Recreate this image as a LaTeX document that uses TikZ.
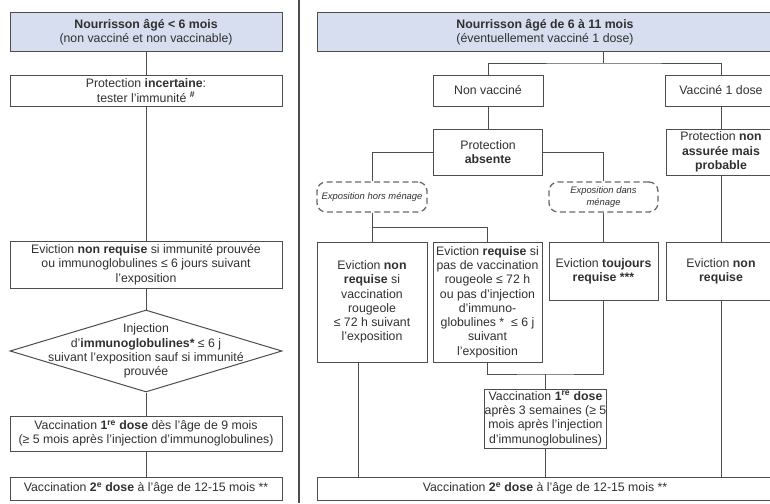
\documentclass[tikz,border=0pt]{standalone}
\usepackage{fontspec}
\setmainfont{Liberation Sans}
\usepackage{tikz}
\usetikzlibrary{shapes.geometric}
\definecolor{headblue}{HTML}{D6DEEF}
\definecolor{linegray}{HTML}{4D4D4D}
\definecolor{txtgray}{HTML}{303030}
\tikzset{dims/.style 2 args={minimum width=#1, minimum height=#2}}
\tikzset{txt/.style={align=center, inner sep=0pt, text=txtgray, font=\fontsize{12.3}{14.3}\selectfont}}
\tikzset{box/.style={txt, draw=linegray, line width=1pt, rectangle}}
\tikzset{head/.style={box, fill=headblue}}
\tikzset{expo/.style={box, draw=linegray!85, line width=1.3pt, dash pattern=on 6pt off 3.5pt, rounded corners=9pt, font=\fontsize{9.4}{12}\selectfont\itshape}}
\tikzset{dmd/.style={draw=linegray, line width=1pt, shape=diamond, inner sep=0pt}}
\tikzset{link/.style={draw=linegray, line width=1pt}}

\begin{document}
\begin{tikzpicture}[x=1pt, y=-1pt]
\useasboundingbox (0, 0) rectangle (770, 503);

% left column: < 6 mois
\node [head, dims={272}{39}] (h1) at(146, 32.5) {\textbf{Nourrisson âgé < 6 mois}\\(non vacciné et non vaccinable)};
\node [box, dims={272}{31}] (p1) at(146, 90.5) {Protection \textbf{incertaine}:\\tester l'immunité \textsuperscript{\textbf{\#}}};
\node [box, dims={272}{47}] (e1) at(146, 264.5) {Eviction \textbf{non requise} si immunité prouvée\\ou immunoglobulines ≤ 6 jours suivant\\l'exposition};
\node [dmd, dims={272}{82}] (d1) at(146, 351) {};
\node [txt] (d1t) at(d1) {Injection\\d'\textbf{immunoglobulines*} ≤ 6 j\\suivant l'exposition sauf si immunité\\prouvée};
\node [box, dims={272}{35}] (v1l) at(146, 433.5) {Vaccination \textbf{1\textsuperscript{re} dose} dès l'âge de 9 mois\\(≥ 5 mois après l'injection d'immunoglobulines)};
\node [box, dims={272}{23}] (v2l) at(146, 488.5) {Vaccination \textbf{2\textsuperscript{e} dose} à l'âge de 12-15 mois **};

\foreach \a/\b in {h1/p1, p1/e1, e1/d1, d1/v1l, v1l/v2l} {\draw [link] (\a) -- (\b);}

\draw [linegray, line width=1.2pt] (299, 0) -- (299, 503);

% right column: 6 a 11 mois
\node [head, dims={456}{39}] (h2) at(545, 32.5) {\textbf{Nourrisson âgé de 6 à 11 mois}\\(éventuellement vacciné 1 dose)};
\node [box, dims={110}{31}] (nv) at(488, 90.5) {Non vacciné};
\node [box, dims={112}{31}] (v1) at(721, 90.5) {Vacciné 1 dose};
\node [box, dims={109}{46}] (pa) at(488, 152) {Protection\\\textbf{absente}};
\node [box, dims={110}{46}] (pn) at(721, 152) {Protection \textbf{non}\\\textbf{assurée mais}\\\textbf{probable}};
\node [expo, dims={110}{30}] (xh) at(372, 197) {Exposition hors ménage};
\node [expo, dims={109}{30}] (xd) at(603.5, 197) {Exposition dans\\ménage};
\node [box, dims={110}{120}] (ea) at(372, 302) {Eviction \textbf{non}\\\textbf{requise} si\\vaccination\\rougeole\\≤ 72 h suivant\\l'exposition};
\node [box, dims={109}{120}] (eb) at(487.5, 302) {Eviction \textbf{requise} si\\pas de vaccination\\rougeole ≤ 72 h\\ou pas d'injection\\d'immuno-\\globulines *~ ≤ 6 j\\suivant\\l'exposition};
\node [box, dims={109}{58}] (ec) at(603.5, 271) {Eviction \textbf{toujours}\\\textbf{requise ***}};
\node [box, dims={110}{58}] (ed) at(721, 271) {Eviction \textbf{non}\\\textbf{requise}};
\node [box, dims={116}{59}] (vb) at(545.5, 418.5) {Vaccination \textbf{1\textsuperscript{re} dose}\\après 3 semaines (≥ 5\\mois après l'injection\\d'immunoglobulines)};
\node [box, dims={456}{23}] (b2) at(545, 488.5) {Vaccination \textbf{2\textsuperscript{e} dose} à l'âge de 12-15 mois **};

\coordinate (s1) at(603, 63);
\coordinate (s2) at(372, 227);
\coordinate (s3) at(545.5, 374);

\draw [link] (h2.south -| s1) -- (s1);
\draw [link] (nv.north) |- (s1) -| (v1.north);
\draw [link] (pa.west) -| (xh.north);
\draw [link] (pa.east) -| (xd.north);
\draw [link] (s2) -| (eb.north);
\draw [link] (eb.south) |- (s3) -| (ec.south);
\foreach \a/\b in {nv/pa, xh/ea, xd/ec, v1/pn, pn/ed, s3/vb} {\draw [link] (\a) -- (\b);}

% down to the 2nd dose
\draw [link] ([xshift=-14pt]ea.south) -- ([xshift=-14pt]ea.south |- b2.north);
\draw [link] (vb) -- (vb |- b2.north);
\draw [link] (ed) -- (ed |- b2.north);

\end{tikzpicture}
\end{document}
